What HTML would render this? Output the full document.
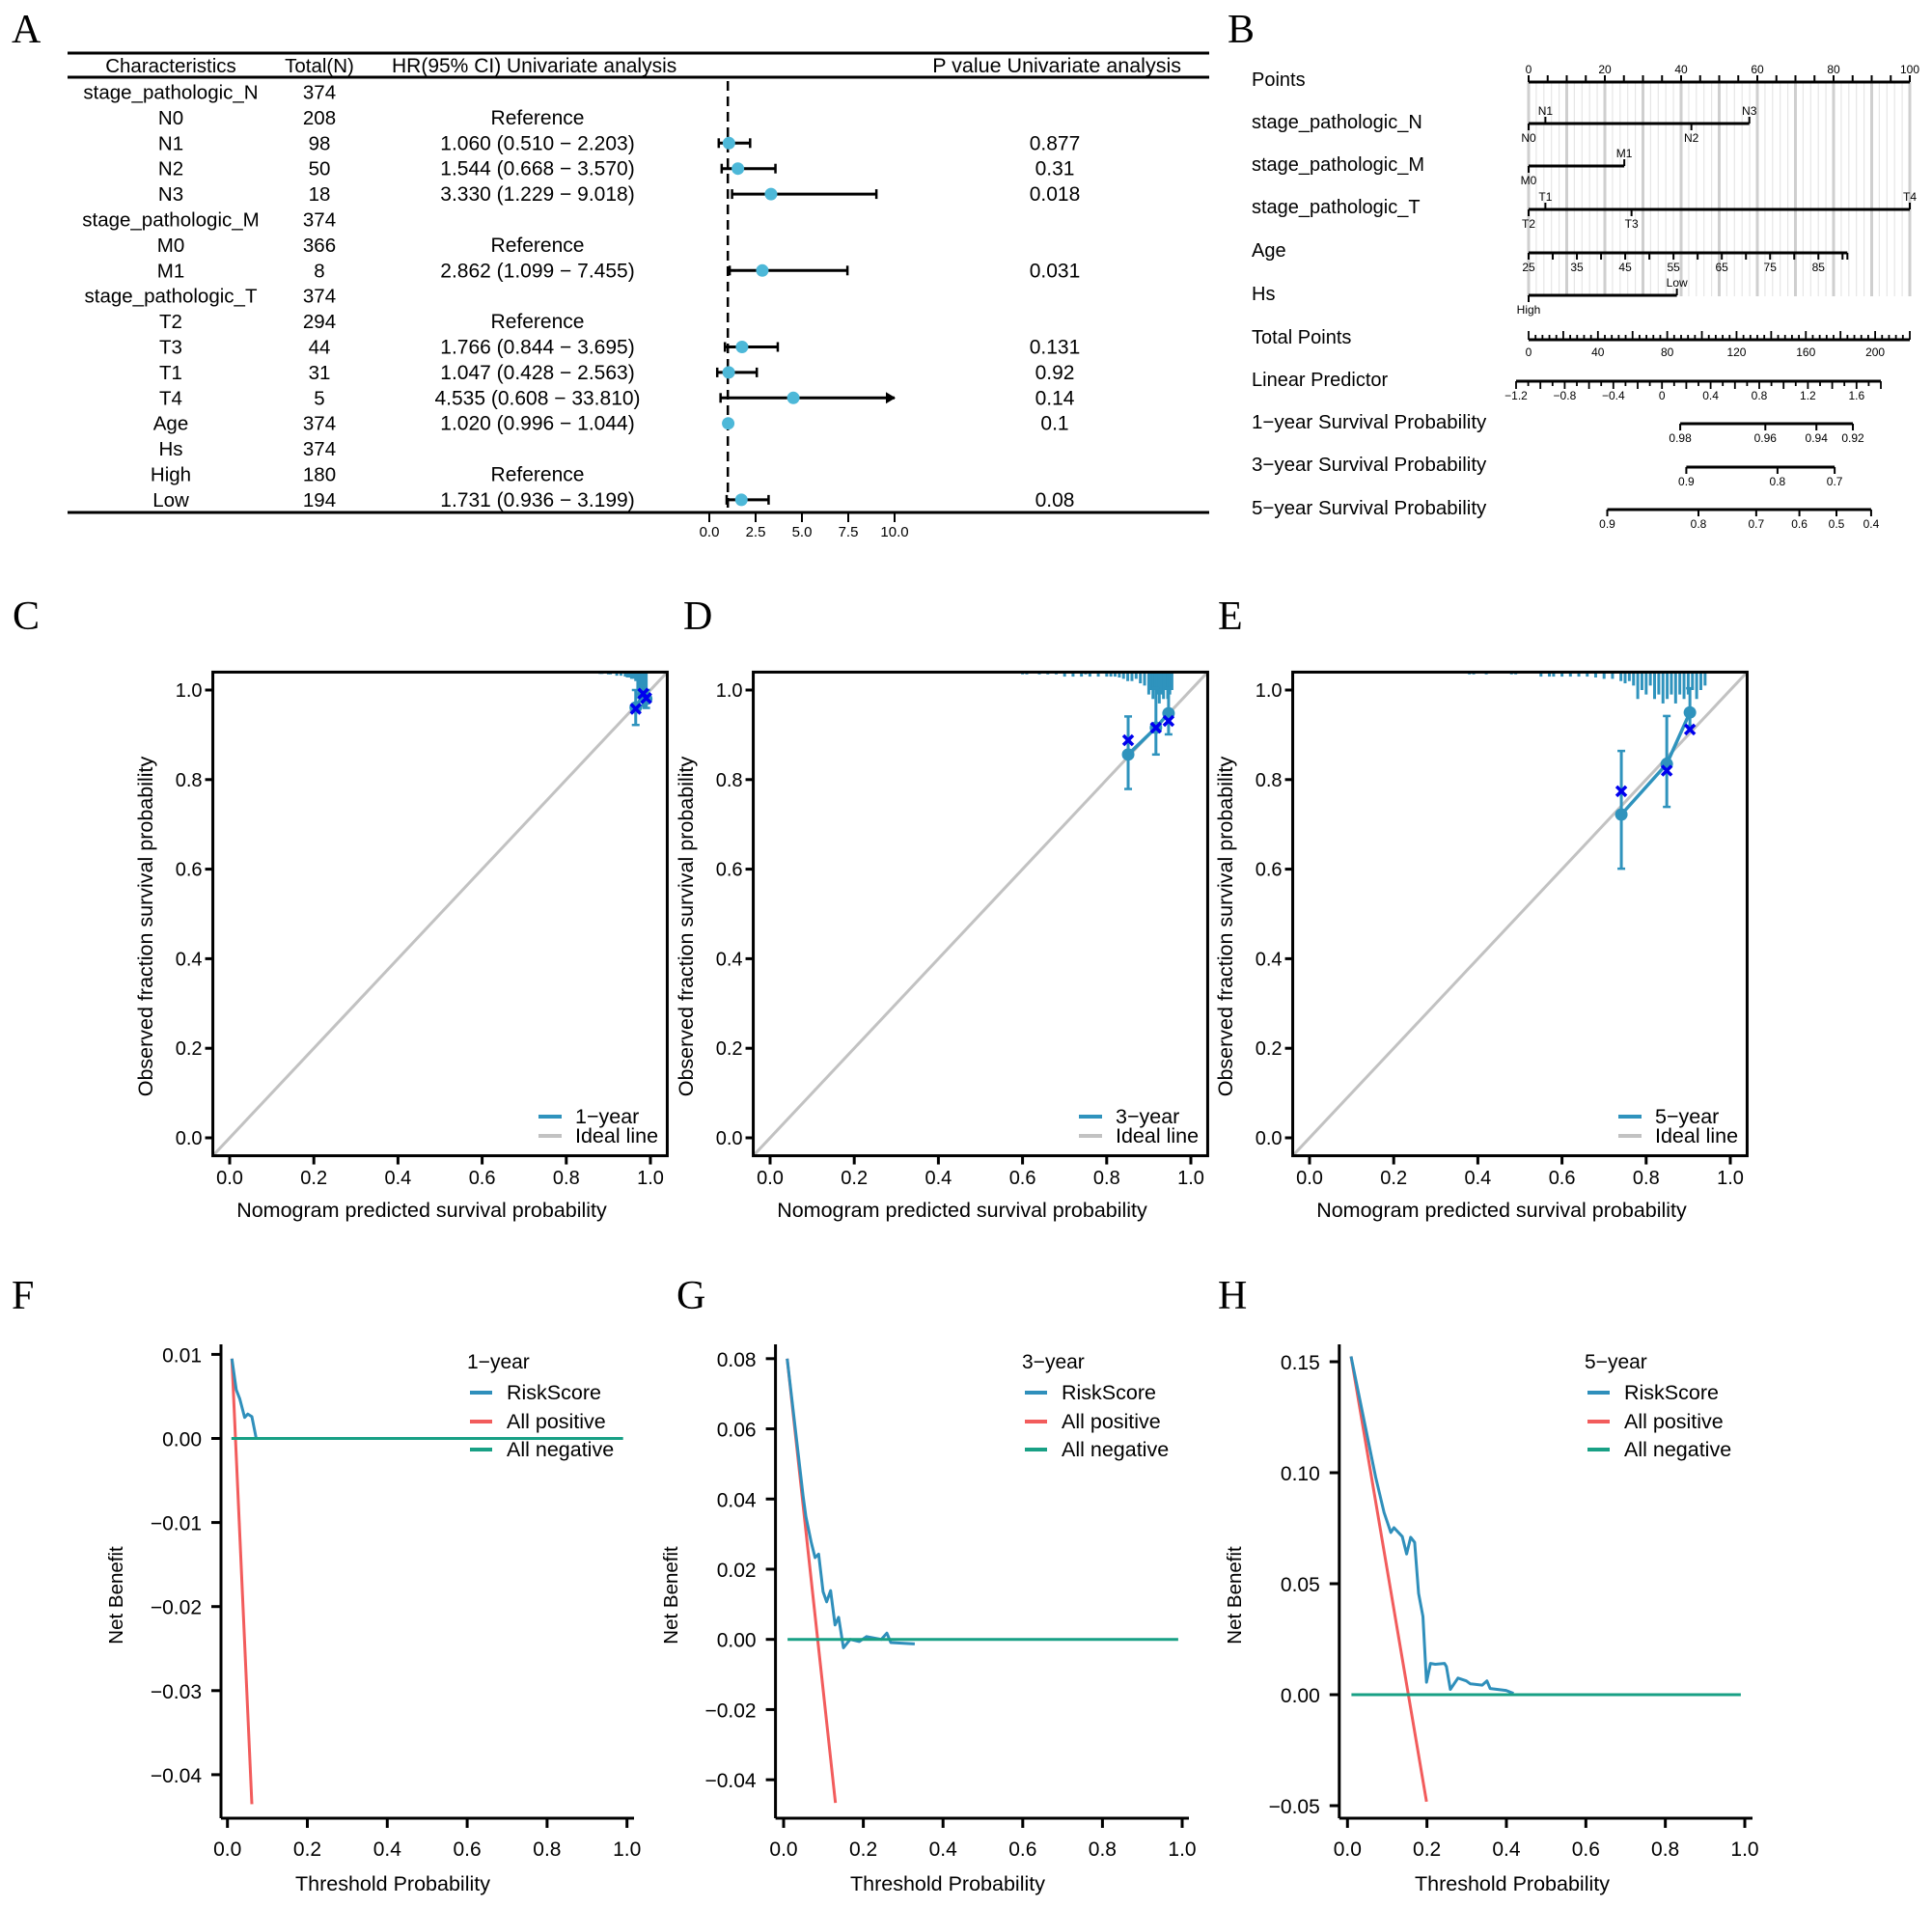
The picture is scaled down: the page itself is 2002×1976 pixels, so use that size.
<!DOCTYPE html>
<html><head><meta charset="utf-8"><title>Nomogram figure</title>
<style>
html,body{margin:0;padding:0;background:#fff;}
svg{display:block;font-family:"Liberation Sans",sans-serif;}
.pl{font-family:"Liberation Serif",serif;font-size:42px;}
</style></head>
<body>
<svg id="fig" width="2002" height="1976" viewBox="0 0 2002 1976" xmlns="http://www.w3.org/2000/svg">
<rect width="2002" height="1976" fill="#fff"/>
<text class="pl" x="12" y="44">A</text>
<text class="pl" x="1272" y="44">B</text>
<text class="pl" x="13" y="652">C</text>
<text class="pl" x="708" y="652">D</text>
<text class="pl" x="1262" y="652">E</text>
<text class="pl" x="12" y="1356">F</text>
<text class="pl" x="701" y="1356">G</text>
<text class="pl" x="1262" y="1356">H</text>
<g id="pA"></g>
<g id="pB"></g>
<g id="pC"></g>
<g id="pD"></g>
<g id="pE"></g>
<g id="pF"></g>
<g id="pG"></g>
<g id="pH"></g>
</svg>
<script>
// ---------- Panel A data ----------
const rowLabels = ['stage_pathologic_N','N0','N1','N2','N3','stage_pathologic_M','M0','M1','stage_pathologic_T','T2','T3','T1','T4','Age','Hs','High','Low'];
const rowTotals = ['374','208','98','50','18','374','366','8','374','294','44','31','5','374','374','180','194'];
const hrText = ['','Reference','1.060 (0.510 \u2212 2.203)','1.544 (0.668 \u2212 3.570)','3.330 (1.229 \u2212 9.018)','','Reference','2.862 (1.099 \u2212 7.455)','','Reference','1.766 (0.844 \u2212 3.695)','1.047 (0.428 \u2212 2.563)','4.535 (0.608 \u2212 33.810)','1.020 (0.996 \u2212 1.044)','','Reference','1.731 (0.936 \u2212 3.199)'];
const pText = ['','','0.877','0.31','0.018','','','0.031','','','0.131','0.92','0.14','0.1','','','0.08'];
const hrVal = [null,null,1.060,1.544,3.330,null,null,2.862,null,null,1.766,1.047,4.535,1.020,null,null,1.731];
const hrLo = [null,null,0.510,0.668,1.229,null,null,1.099,null,null,0.844,0.428,0.608,0.996,null,null,0.936];
const hrHi = [null,null,2.203,3.570,9.018,null,null,7.455,null,null,3.695,2.563,33.810,1.044,null,null,3.199];
const forestTicks = [0,2.5,5,7.5,10];

// ---------- Panel B data ----------
const nomoLabels = ['Points','stage_pathologic_N','stage_pathologic_M','stage_pathologic_T','Age','Hs','Total Points','Linear Predictor','1\u2212year Survival Probability','3\u2212year Survival Probability','5\u2212year Survival Probability'];
const nLevels = ['N0','N1','N2','N3'];
const nPoints = [0,4.4,42.7,57.9];
const mLevels = ['M0','M1'];
const mPoints = [0,25.1];
const tLevels = ['T2','T1','T3','T4'];
const tPoints = [0,4.4,27,100];
const hsLevels = ['High','Low'];
const hsPoints = [0,38.9];
const ageTicks = [25,35,45,55,65,75,85];
const oneYrTicks = ['0.98','0.96','0.94','0.92'];
const oneYrLP = [0.15,0.85,1.27,1.57];
const threeYrTicks = ['0.9','0.8','0.7'];
const threeYrLP = [0.2,0.95,1.42];
const fiveYrTicks = ['0.9','0.8','0.7','0.6','0.5','0.4'];
const fiveYrLP = [-0.45,0.3,0.775,1.13,1.435,1.72];

// ---------- Calibration data ----------
const calPredC = [0.965,0.983,0.990];
const calObsC = [0.961,0.991,0.980];
const calLoC = [0.922,0.965,0.960];
const calHiC = [1.0,1.01,1.0];
const calKmC = [0.958,0.992,0.982];
const calPredD = [0.851,0.917,0.947];
const calObsD = [0.856,0.916,0.948];
const calLoD = [0.779,0.856,0.901];
const calHiD = [0.941,1.004,1.004];
const calKmD = [0.888,0.916,0.931];
const calPredE = [0.741,0.849,0.904];
const calObsE = [0.722,0.835,0.950];
const calLoE = [0.601,0.739,0.920];
const calHiE = [0.864,0.942,1.004];
const calKmE = [0.774,0.820,0.912];
const rugXC = [0.88,0.885,0.9,0.905,0.92,0.93,0.94,0.945,0.95,0.955,0.96,0.965,0.97,0.972,0.975,0.978,0.98,0.982,0.985,0.987,0.99];
const rugDC = [0.004,0.004,0.005,0.005,0.008,0.008,0.01,0.012,0.012,0.015,0.015,0.02,0.04,0.06,0.03,0.05,0.07,0.05,0.04,0.06,0.05];
const rugXD = [0.6,0.61,0.64,0.66,0.68,0.7,0.72,0.74,0.75,0.76,0.78,0.8,0.81,0.82,0.83,0.84,0.85,0.86,0.87,0.88,0.89,0.9,0.905,0.91,0.915,0.92,0.925,0.93,0.935,0.94,0.945,0.95,0.955];
const rugDD = [0.005,0.005,0.005,0.005,0.005,0.01,0.01,0.01,0.005,0.01,0.01,0.01,0.01,0.01,0.012,0.015,0.02,0.02,0.015,0.025,0.03,0.05,0.04,0.06,0.04,0.05,0.07,0.05,0.06,0.04,0.06,0.05,0.04];
const rugXE = [0.38,0.39,0.42,0.48,0.49,0.55,0.57,0.58,0.6,0.62,0.64,0.66,0.68,0.7,0.72,0.74,0.75,0.76,0.77,0.78,0.79,0.8,0.81,0.82,0.83,0.84,0.85,0.86,0.87,0.88,0.89,0.9,0.91,0.92,0.93,0.94];
const rugDE = [0.005,0.005,0.005,0.005,0.005,0.01,0.01,0.01,0.01,0.01,0.01,0.01,0.012,0.015,0.015,0.02,0.025,0.02,0.03,0.06,0.04,0.05,0.03,0.06,0.05,0.07,0.06,0.05,0.07,0.05,0.06,0.05,0.04,0.06,0.04,0.03];
const calTicks = [0,0.2,0.4,0.6,0.8,1.0];

// ---------- DCA data ----------
const dcaTF = [0.011,0.022,0.031,0.043,0.051,0.061,0.072,0.2,0.4,0.6,0.8,0.99];
const dcaRF = [0.0095,0.0058,0.0047,0.0025,0.0029,0.0026,0,0,0,0,0,0];
const dcaPosTF = [0.011,0.061];
const dcaPosF = [0.0095,-0.0435];
const dcaTG = [0.009,0.049,0.056,0.069,0.079,0.088,0.099,0.108,0.118,0.129,0.138,0.150,0.167,0.19,0.208,0.245,0.259,0.269,0.329];
const dcaRG = [0.08,0.0409,0.035,0.0278,0.0233,0.0243,0.0136,0.0107,0.0139,0.0041,0.0063,-0.0024,0,-0.0006,0.0008,0,0.0018,-0.0009,-0.0013];
const dcaPosTG = [0.009,0.13];
const dcaPosG = [0.08,-0.0466];
const dcaTH = [0.009,0.071,0.092,0.109,0.117,0.138,0.149,0.159,0.169,0.179,0.190,0.199,0.209,0.221,0.244,0.249,0.259,0.278,0.299,0.309,0.339,0.351,0.359,0.399,0.418];
const dcaRH = [0.1524,0.098,0.0821,0.0731,0.0752,0.0712,0.0634,0.0709,0.0686,0.0456,0.0352,0.0056,0.0141,0.0137,0.0141,0.0127,0.0024,0.0075,0.0062,0.0049,0.0043,0.0062,0.0028,0.0019,0.0006];
const dcaPosTH = [0.009,0.199];
const dcaPosH = [0.1524,-0.0482];
const dcaNegT = [0.01,0.99];
const dcaNeg = [0,0];
const dcaXTicks = [0,0.2,0.4,0.6,0.8,1.0];
const dcaYTicksF = [0.01,0,-0.01,-0.02,-0.03,-0.04];
const dcaYTicksG = [0.08,0.06,0.04,0.02,0,-0.02,-0.04];
const dcaYTicksH = [0.15,0.10,0.05,0,-0.05];

const NS = 'http://www.w3.org/2000/svg';
function mk(parent, tag, attrs, name, txt) {
  const el = document.createElementNS(NS, tag);
  for (const k in attrs) el.setAttribute(k, attrs[k]);
  
  
  if (txt !== undefined) el.textContent = txt;
  parent.appendChild(el);
  return el;
}
function line(p, x1, y1, x2, y2, st, w, name, extra) {
  const a = {x1:x1, y1:y1, x2:x2, y2:y2, stroke:st, 'stroke-width':w};
  if (extra) for (const k in extra) a[k] = extra[k];
  return mk(p, 'line', a, name);
}
function txt(p, x, y, s, size, anchor, name, extra) {
  const a = {x:x, y:y, 'font-size':size, 'text-anchor':anchor || 'start'};
  if (extra) for (const k in extra) a[k] = extra[k];
  return mk(p, 'text', a, name, s);
}
function fmt(v, d) { const s = Math.abs(v).toFixed(d); return (v < 0 ? '\u2212' : '') + s; }

// ================= Panel A =================
(function(){
  const g = document.getElementById('pA');
  const L = 70, R = 1253;
  line(g, L, 55, R, 55, '#000', 3, 'table-top-rule');
  line(g, L, 80, R, 80, '#000', 3, 'table-header-rule');
  line(g, L, 531, R, 531, '#000', 3, 'table-bottom-rule');
  txt(g, 177, 75, 'Characteristics', 20.5, 'middle', 'header-characteristics');
  txt(g, 331, 75, 'Total(N)', 20.5, 'middle', 'header-total');
  txt(g, 406, 75, 'HR(95% CI) Univariate analysis', 21, 'start', 'header-hr');
  txt(g, 1224, 75, 'P value Univariate analysis', 21.5, 'end', 'header-pvalue');
  const fx = v => 735 + Math.min(v, 10) * 19.2;
  const ry = i => 95.5 + i * 26.4;
  line(g, fx(1), 84, fx(1), 528, '#000', 2.5, 'reference-line-hr-1', {'stroke-dasharray':'10,6'});
  for (let i = 0; i < rowLabels.length; i++) {
    const y = ry(i);
    txt(g, 177, y + 7, rowLabels[i], 20.5, 'middle', 'row-label');
    txt(g, 331, y + 7, rowTotals[i], 20.5, 'middle', 'row-total');
    if (hrText[i]) txt(g, 557, y + 7, hrText[i], 21, 'middle', 'row-hr-text');
    if (pText[i]) txt(g, 1093, y + 7, pText[i], 21, 'middle', 'row-pvalue');
    if (hrVal[i] !== null) {
      const x1 = fx(hrLo[i]), x2 = fx(hrHi[i]);
      line(g, x1, y, x2, y, '#000', 3, 'ci-bar');
      line(g, x1, y - 5, x1, y + 5, '#000', 2.5, 'ci-cap-low');
      if (hrHi[i] > 10) {
        mk(g, 'polygon', {points: (x2+1)+','+y+' '+(x2-9)+','+(y-6)+' '+(x2-9)+','+(y+6), fill:'#000'}, 'ci-arrow');
      } else {
        line(g, x2, y - 5, x2, y + 5, '#000', 2.5, 'ci-cap-high');
      }
      mk(g, 'circle', {cx:fx(hrVal[i]), cy:y, r:6.5, fill:'#4db8d8'}, 'hr-point');
    }
  }
  forestTicks.forEach(t => {
    line(g, fx(t), 532, fx(t), 541, '#000', 2, 'forest-x-tick');
    txt(g, fx(t), 556, t.toFixed(1), 15, 'middle', 'forest-x-tick-label');
  });
})();

// ================= Panel B =================
(function(){
  const g = document.getElementById('pB');
  const px = p => 1584 + p * 3.95;
  const rowY = [82,126,170,214,259,304,349,393,437,481,526];
  nomoLabels.forEach((s, i) => txt(g, 1297, rowY[i] + 7, s, i >= 8 ? 20.5 : 20, 'start', 'nomogram-row-label'));
  for (let p = 0; p <= 100; p += 2) {
    const major = p % 10 === 0;
    line(g, px(p), 85, px(p), 307, major ? '#cfcfcf' : '#e6e6e6', major ? 3 : 1.2, 'nomogram-grid-line');
  }
  line(g, px(0), 85, px(100), 85, '#000', 3, 'points-axis');
  for (let p = 0; p <= 100; p += 5) line(g, px(p), 85, px(p), 78, '#000', 2, 'points-tick');
  for (let p = 0; p <= 100; p += 20) txt(g, px(p), 76, String(p), 12, 'middle', 'points-tick-label');
  function catAxis(y, pts, labs, above, nm) {
    line(g, px(0), y, px(Math.max.apply(null, pts)), y, '#000', 3, nm + '-axis');
    pts.forEach((p, i) => {
      const up = above[i];
      line(g, px(p), y, px(p), up ? y - 7 : y + 7, '#000', 2, nm + '-tick');
      txt(g, px(p), up ? y - 9 : y + 19, labs[i], 12, 'middle', nm + '-level-label');
    });
  }
  catAxis(128, nPoints, nLevels, [false,true,false,true], 'stage-n');
  catAxis(172, mPoints, mLevels, [false,true], 'stage-m');
  catAxis(217, tPoints, tLevels, [false,true,false,true], 'stage-t');
  catAxis(306, hsPoints, hsLevels, [false,true], 'hs');
  const ap = a => (a - 25) * 1.267;
  line(g, px(0), 262, px(ap(91)), 262, '#000', 3, 'age-axis');
  for (let a = 25; a <= 90; a += 5) line(g, px(ap(a)), 262, px(ap(a)), 269, '#000', 2, 'age-tick');
  line(g, px(ap(91)), 262, px(ap(91)), 269, '#000', 2, 'age-tick');
  ageTicks.forEach(a => txt(g, px(ap(a)), 281, String(a), 12, 'middle', 'age-tick-label'));
  const tp = t => 1584 + t * (395 / 220);
  line(g, tp(0), 352, tp(220), 352, '#000', 3, 'total-points-axis');
  for (let t = 0; t <= 220; t += 4) line(g, tp(t), 352, tp(t), t % 20 === 0 ? 343 : 347, '#000', 1.8, 'total-points-tick');
  for (let t = 0; t <= 200; t += 40) txt(g, tp(t), 369, String(t), 12, 'middle', 'total-points-tick-label');
  const lp = v => 1571 + (v + 1.2) * 126;
  line(g, lp(-1.2), 395, lp(1.8), 395, '#000', 3, 'linear-predictor-axis');
  for (let k = -12; k <= 18; k++) line(g, lp(k / 10), 395, lp(k / 10), k % 2 === 0 ? 403 : 400, '#000', 1.8, 'linear-predictor-tick');
  for (let k = -12; k <= 16; k += 4) txt(g, lp(k / 10), 414, k === 0 ? '0' : fmt(k / 10, 1), 12, 'middle', 'linear-predictor-tick-label');
  function probAxis(y, lps, labs, nm) {
    line(g, lp(lps[0]), y, lp(lps[lps.length - 1]), y, '#000', 3, nm + '-axis');
    lps.forEach((v, i) => {
      line(g, lp(v), y, lp(v), y + 7, '#000', 2, nm + '-tick');
      txt(g, lp(v), y + 19, labs[i], 12, 'middle', nm + '-tick-label');
    });
  }
  probAxis(439, oneYrLP, oneYrTicks, 'one-year-prob');
  probAxis(484, threeYrLP, threeYrTicks, 'three-year-prob');
  probAxis(528, fiveYrLP, fiveYrTicks, 'five-year-prob');
})();

// ================= Calibration =================
function calib(id, x0, pred, obs, lo, hi, km, rugX, rugD, legendLabel) {
  const g = document.getElementById(id);
  const X = v => x0 + v * 436, Y = v => 1179 - v * 464;
  const blue = '#2f93bd';
  line(g, X(-0.04), Y(-0.04), X(1.04), Y(1.04), '#c2c2c2', 3, 'ideal-line');
  rugX.forEach((r, i) => line(g, X(r), Y(1.04), X(r), Y(1.04 - rugD[i]), blue, 3, 'rug-tick'));
  let d = '';
  pred.forEach((p, i) => d += (i ? 'L' : 'M') + X(p) + ',' + Y(obs[i]));
  mk(g, 'path', {d:d, fill:'none', stroke:blue, 'stroke-width':3.5}, 'calibration-curve');
  pred.forEach((p, i) => {
    line(g, X(p), Y(lo[i]), X(p), Y(hi[i]), blue, 3, 'calibration-ci');
    line(g, X(p) - 4, Y(lo[i]), X(p) + 4, Y(lo[i]), blue, 2.5, 'calibration-ci-cap');
    line(g, X(p) - 4, Y(hi[i]), X(p) + 4, Y(hi[i]), blue, 2.5, 'calibration-ci-cap');
    mk(g, 'circle', {cx:X(p), cy:Y(obs[i]), r:6.5, fill:blue}, 'calibration-point');
  });
  pred.forEach((p, i) => {
    const cx = X(p), cy = Y(km[i]);
    line(g, cx - 5, cy - 5, cx + 5, cy + 5, '#0000ee', 3.5, 'km-cross');
    line(g, cx - 5, cy + 5, cx + 5, cy - 5, '#0000ee', 3.5, 'km-cross');
  });
  mk(g, 'rect', {x:X(-0.04), y:Y(1.04), width:X(1.04) - X(-0.04), height:Y(-0.04) - Y(1.04), fill:'none', stroke:'#000', 'stroke-width':3}, 'plot-box');
  calTicks.forEach(t => {
    line(g, X(-0.04), Y(t), X(-0.04) - 8, Y(t), '#000', 3, 'y-tick');
    txt(g, X(-0.04) - 11, Y(t) + 7, t.toFixed(1), 20, 'end', 'y-tick-label');
    line(g, X(t), Y(-0.04), X(t), Y(-0.04) + 9, '#000', 3, 'x-tick');
    txt(g, X(t), 1227, t.toFixed(1), 20, 'middle', 'x-tick-label');
  });
  txt(g, X(0.5) - 19, 1261, 'Nomogram predicted survival probability', 21.5, 'middle', 'x-axis-title');
  txt(g, 0, 0, 'Observed fraction survival probability', 21.5, 'middle', 'y-axis-title', {transform:'translate(' + (x0 - 80) + ',960) rotate(-90)'});
  line(g, x0 + 320, 1157, x0 + 344, 1157, blue, 4, 'legend-swatch-curve');
  line(g, x0 + 320, 1177, x0 + 344, 1177, '#c2c2c2', 4, 'legend-swatch-ideal');
  txt(g, x0 + 358, 1164, legendLabel, 21.5, 'start', 'legend-entry-curve');
  txt(g, x0 + 358, 1184, 'Ideal line', 21.5, 'start', 'legend-entry-ideal');
}
calib('pC', 238, calPredC, calObsC, calLoC, calHiC, calKmC, rugXC, rugDC, '1\u2212year');
calib('pD', 798, calPredD, calObsD, calLoD, calHiD, calKmD, rugXD, rugDD, '3\u2212year');
calib('pE', 1357, calPredE, calObsE, calLoE, calHiE, calKmE, rugXE, rugDE, '5\u2212year');

// ================= DCA =================
function dca(id, cfg) {
  const g = document.getElementById(id);
  const X = v => cfg.x0 + v * cfg.xs, Y = v => cfg.y0 - v * cfg.ys;
  const path = (ts, vs, col, nm) => {
    let d = '';
    ts.forEach((t, i) => d += (i ? 'L' : 'M') + X(t).toFixed(1) + ',' + Y(vs[i]).toFixed(1));
    mk(g, 'path', {d:d, fill:'none', stroke:col, 'stroke-width':3, 'stroke-linejoin':'round'}, nm);
  };
  path(cfg.posT, cfg.pos, '#f25c5c', 'all-positive-line');
  path(cfg.riskT, cfg.risk, '#2f8fbb', 'riskscore-line');
  path(dcaNegT, dcaNeg, '#18a085', 'all-negative-line');
  line(g, cfg.ax, cfg.top, cfg.ax, 1884, '#000', 3, 'y-axis-line');
  line(g, cfg.ax, 1884, cfg.right, 1884, '#000', 3, 'x-axis-line');
  cfg.yt.forEach(t => {
    line(g, cfg.ax, Y(t), cfg.ax - 10, Y(t), '#000', 3, 'y-tick');
    txt(g, cfg.ax - 20, Y(t) + 8, fmt(t, cfg.dec), 21, 'end', 'y-tick-label');
  });
  dcaXTicks.forEach(t => {
    line(g, X(t), 1884, X(t), 1894, '#000', 3, 'x-tick');
    txt(g, X(t), 1923, t.toFixed(1), 21, 'middle', 'x-tick-label');
  });
  txt(g, cfg.xlc, 1959, 'Threshold Probability', 21.5, 'middle', 'x-axis-title');
  txt(g, 0, 0, 'Net Benefit', 20.5, 'middle', 'y-axis-title', {transform:'translate(' + (cfg.ylx + 7) + ',1653) rotate(-90)'});
  txt(g, cfg.lx, 1418, cfg.title, 21, 'start', 'legend-title');
  const labs = ['RiskScore','All positive','All negative'], cols = ['#2f8fbb','#f25c5c','#18a085'], ys = [1443,1473,1502];
  labs.forEach((s, i) => {
    line(g, cfg.lx + 3, ys[i], cfg.lx + 26, ys[i], cols[i], 4, 'legend-swatch');
    txt(g, cfg.lx + 41, ys[i] + 7, s, 21.5, 'start', 'legend-entry');
  });
}
dca('pF', {x0:235.7, xs:414, y0:1490.5, ys:8710, ax:229, top:1393, right:657, yt:dcaYTicksF, dec:2, riskT:dcaTF, risk:dcaRF, posT:dcaPosTF, pos:dcaPosF, title:'1\u2212year', lx:484, ylx:120, xlc:407});
dca('pG', {x0:812, xs:413, y0:1698.7, ys:3636, ax:803.6, top:1393, right:1232, yt:dcaYTicksG, dec:2, riskT:dcaTG, risk:dcaRG, posT:dcaPosTG, pos:dcaPosG, title:'3\u2212year', lx:1059, ylx:695, xlc:982});
dca('pH', {x0:1396.3, xs:411.7, y0:1756, ys:2300, ax:1387.8, top:1393, right:1816, yt:dcaYTicksH, dec:2, riskT:dcaTH, risk:dcaRH, posT:dcaPosTH, pos:dcaPosH, title:'5\u2212year', lx:1642, ylx:1279, xlc:1567});
</script>
</body></html>
